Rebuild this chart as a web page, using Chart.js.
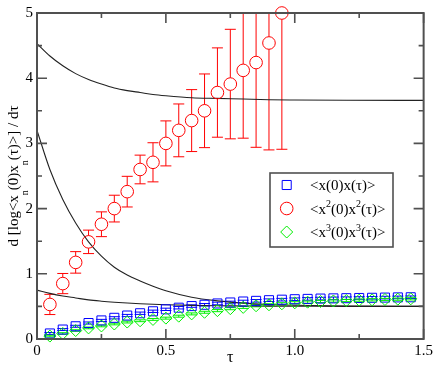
<!DOCTYPE html>
<html><head><meta charset="utf-8">
<script src="https://cdn.jsdelivr.net/npm/chart.js@4"></script>
<style>html,body{margin:0;padding:0;background:#fff}</style>
</head><body>
<canvas id="c" width="436" height="371"></canvas>
<script>
// ---- data ----
const tau = [0.05,0.10,0.15,0.20,0.25,0.30,0.35,0.40,0.45,0.50,0.55,0.60,0.65,0.70,0.75,0.80,0.85,0.90,0.95,1.00,1.05,1.10,1.15,1.20,1.25,1.30,1.35,1.40,1.45];
const tauRed = [0.05,0.10,0.15,0.20,0.25,0.30,0.35,0.40,0.45,0.50,0.55,0.60,0.65,0.70,0.75,0.80,0.85,0.90,0.95];

const blueY = [0.085,0.145,0.195,0.245,0.285,0.325,0.36,0.395,0.425,0.455,0.48,0.505,0.525,0.545,0.56,0.575,0.585,0.595,0.603,0.61,0.615,0.62,0.623,0.626,0.629,0.632,0.635,0.638,0.64];
const blueErr = [0.015,0.015,0.015,0.016,0.016,0.017,0.017,0.018,0.018,0.018,0.019,0.019,0.019,0.02,0.02,0.02,0.02,0.02,0.02,0.02,0.02,0.02,0.02,0.02,0.02,0.02,0.02,0.02,0.02];
const redY = [0.53,0.85,1.175,1.49,1.76,2.0,2.26,2.6,2.71,3.0,3.2,3.35,3.5,3.78,3.91,4.12,4.24,4.54,5.0];
const redErr = [0.155,0.155,0.165,0.18,0.19,0.205,0.235,0.22,0.30,0.345,0.405,0.475,0.565,0.685,0.84,1.04,1.30,1.64,2.09];
const greenY = [0.045,0.085,0.13,0.17,0.2,0.23,0.26,0.28,0.30,0.32,0.35,0.385,0.41,0.435,0.465,0.485,0.51,0.525,0.54,0.555,0.565,0.575,0.583,0.59,0.596,0.601,0.606,0.611,0.616];
const greenErr = [0.012,0.012,0.012,0.013,0.013,0.013,0.014,0.014,0.014,0.015,0.015,0.015,0.015,0.016,0.016,0.016,0.016,0.016,0.017,0.017,0.017,0.017,0.017,0.017,0.017,0.017,0.017,0.017,0.017];

// fitted curves
const curveX  = [0,0.05,0.10,0.15,0.20,0.25,0.30,0.35,0.40,0.45,0.50,0.60,0.70,0.80,0.90,1.00,1.20,1.50];
const curve1Y = [4.53,4.34,4.19,4.07,3.98,3.91,3.85,3.81,3.78,3.75,3.73,3.70,3.69,3.68,3.67,3.666,3.662,3.66];
const curve2Y = [3.20,2.60,2.14,1.78,1.49,1.27,1.10,0.98,0.89,0.81,0.74,0.64,0.585,0.55,0.53,0.518,0.507,0.502];
const curve3Y = [0.75,0.70,0.66,0.63,0.60,0.58,0.564,0.551,0.54,0.532,0.526,0.516,0.51,0.507,0.504,0.503,0.501,0.50];

const xMin = 0, xMax = 1.5, xStep = 0.5;
const yMin = 0, yMax = 5, yStep = 1;

const legendRows = [
  {color:'#0000ff', style:'rect', parts:[['<x(0)x(τ)>',0]]},
  {color:'#ff0000', style:'circle', parts:[['<x',0],['2',1],['(0)x',0],['2',1],['(τ)>',0]]},
  {color:'#00f000', style:'rectRot', parts:[['<x',0],['3',1],['(0)x',0],['3',1],['(τ)>',0]]}
];
const yLabelParts = [['d [log<x',0],['n',1],['(0)x',0],['n',1],['(τ)>] / dτ',0]];
const xLabel = 'τ';

// ---- build ----
const pts = (xs, ys) => xs.map((v,i)=>({x:v, y:ys[i]}));
const SERIF = "'Liberation Serif','Times New Roman',serif";
const FRAME = '#505050';

const errPlugin = {
  id:'errbars',
  beforeDatasetsDraw(chart){
    const {ctx, chartArea:a, scales:{x, y}} = chart;
    ctx.save();
    ctx.beginPath(); ctx.rect(a.left, a.top, a.right-a.left, a.bottom-a.top); ctx.clip();
    const cap = 5.5;
    const draw = (xs, ys, es, color, gap) => {
      ctx.strokeStyle = color; ctx.lineWidth = 1;
      for (let i=0;i<xs.length;i++){
        const px = x.getPixelForValue(xs[i]);
        const py = y.getPixelForValue(ys[i]);
        const pt = y.getPixelForValue(ys[i]+es[i]);
        const pb = y.getPixelForValue(ys[i]-es[i]);
        ctx.beginPath();
        if (gap > 0) {
          if (py-gap > pt) { ctx.moveTo(px, pt); ctx.lineTo(px, py-gap); }
          if (pb > py+gap) { ctx.moveTo(px, py+gap); ctx.lineTo(px, pb); }
        } else { ctx.moveTo(px, pt); ctx.lineTo(px, pb); }
        ctx.moveTo(px-cap, pt); ctx.lineTo(px+cap, pt);
        ctx.moveTo(px-cap, pb); ctx.lineTo(px+cap, pb);
        ctx.stroke();
      }
    };
    draw(tau, blueY, blueErr, '#0000ff', 0);
    draw(tau, greenY, greenErr, '#00f000', 0);
    draw(tauRed, redY, redErr, '#ff0000', 6.3);
    ctx.restore();
  }
};

function drawParts(ctx, parts, x0, y0, size, measureOnly){
  let w = 0;
  for (const [t, sup] of parts){
    ctx.font = (sup ? Math.round(size*0.68) : size) + 'px ' + SERIF;
    const tw = ctx.measureText(t).width;
    if (!measureOnly) ctx.fillText(t, x0 + w, y0 - (sup ? size*0.42 : 0));
    w += tw;
  }
  return w;
}

const framePlugin = {
  id:'frame',
  afterDatasetsDraw(chart){
    const {ctx, chartArea:a, scales:{x, y}} = chart;
    ctx.save();
    ctx.strokeStyle = FRAME; ctx.lineWidth = 1.6;
    const maj = 10, min = 5;
    const xt = x.ticks.map(t=>t.value), yt = y.ticks.map(t=>t.value);
    const xm = [], ym = [];
    for (let i=0;i<xt.length-1;i++) xm.push((xt[i]+xt[i+1])/2);
    for (let i=0;i<yt.length-1;i++) ym.push((yt[i]+yt[i+1])/2);
    ctx.beginPath();
    const vx = (v, L) => { const p = x.getPixelForValue(v);
      ctx.moveTo(p, a.bottom); ctx.lineTo(p, a.bottom - L);
      ctx.moveTo(p, a.top); ctx.lineTo(p, a.top + L); };
    const vy = (v, L) => { const p = y.getPixelForValue(v);
      ctx.moveTo(a.left, p); ctx.lineTo(a.left + L, p);
      ctx.moveTo(a.right, p); ctx.lineTo(a.right - L, p); };
    xt.forEach(v=>vx(v, maj)); xm.forEach(v=>vx(v, min));
    yt.forEach(v=>vy(v, maj)); ym.forEach(v=>vy(v, min));
    ctx.stroke();
    ctx.lineWidth = 2;
    ctx.strokeRect(a.left, a.top, a.right-a.left, a.bottom-a.top);
    ctx.restore();
  },
  afterDraw(chart){
    const {ctx, chartArea:a} = chart;
    ctx.save();
    ctx.fillStyle = '#000';
    // x label
    ctx.font = '16px ' + SERIF; ctx.textAlign = 'center'; ctx.textBaseline = 'alphabetic';
    ctx.fillText(xLabel, (a.left+a.right)/2, 362);
    // y label
    ctx.textAlign = 'left';
    const size = 15;
    const w = drawParts(ctx, yLabelParts, 0, 0, size, true);
    ctx.translate(18, (a.top+a.bottom)/2);
    ctx.rotate(-Math.PI/2);
    let off = -w/2;
    for (const [t, sup] of yLabelParts){
      ctx.font = (sup ? 10 : size) + 'px ' + SERIF;
      ctx.fillText(t, off, sup ? 10 : 0);
      off += ctx.measureText(t).width;
    }
    ctx.restore();

    // legend
    ctx.save();
    const bx = 270, by = 173, bw = 123, bh = 74;
    ctx.fillStyle = '#fff'; ctx.fillRect(bx, by, bw, bh);
    ctx.strokeStyle = FRAME; ctx.lineWidth = 1.6; ctx.strokeRect(bx, by, bw, bh);
    const rowsY = [185, 208.5, 232];
    legendRows.forEach((r, i) => {
      const cy = rowsY[i];
      ctx.strokeStyle = r.color; ctx.lineWidth = 1; ctx.fillStyle = 'rgba(0,0,0,0)';
      Chart.helpers.drawPoint(ctx, {pointStyle:r.style, radius: r.style==='rect'?6.4:(r.style==='circle'?6.3:6), borderWidth:1, rotation:0}, 286.7, cy);
      ctx.fillStyle = '#000'; ctx.textBaseline = 'alphabetic'; ctx.textAlign = 'left';
      drawParts(ctx, r.parts, 310, cy + 5, 15, false);
    });
    ctx.restore();
  }
};

new Chart(document.getElementById('c'), {
  type: 'scatter',
  data: {
    datasets: [
      {label:'<x3(0)x3(τ)>', data: pts(tau, greenY), pointStyle:'rectRot', pointRadius:6, borderColor:'#00f000', backgroundColor:'rgba(0,0,0,0)', borderWidth:1, clip:8},
      {label:'<x(0)x(τ)>', data: pts(tau, blueY), pointStyle:'rect', pointRadius:6.4, borderColor:'#0000ff', backgroundColor:'rgba(0,0,0,0)', borderWidth:1, clip:8},
      {label:'<x2(0)x2(τ)>', data: pts(tauRed, redY), pointStyle:'circle', pointRadius:6.3, borderColor:'#ff0000', backgroundColor:'rgba(0,0,0,0)', borderWidth:1, clip:8},
      {type:'line', label:'fit1', data: pts(curveX, curve1Y), borderColor:'#222', borderWidth:1.1, pointRadius:0, cubicInterpolationMode:'monotone', fill:false},
      {type:'line', label:'fit2', data: pts(curveX, curve2Y), borderColor:'#222', borderWidth:1.1, pointRadius:0, cubicInterpolationMode:'monotone', fill:false},
      {type:'line', label:'fit3', data: pts(curveX, curve3Y), borderColor:'#222', borderWidth:1.1, pointRadius:0, cubicInterpolationMode:'monotone', fill:false}
    ]
  },
  options: {
    responsive:false, animation:false, devicePixelRatio:1,
    layout:{padding:{top:7, right:11, left:0, bottom:0}},
    plugins:{legend:{display:false}, tooltip:{enabled:false}},
    scales:{
      x:{type:'linear', min:xMin, max:xMax,
         ticks:{stepSize:xStep, color:'#000', font:{family:SERIF, size:15}, padding:3, maxRotation:0, autoSkip:false},
         grid:{display:false, drawTicks:false}, border:{display:false},
         afterFit(s){ s.height = 32; }},
      y:{type:'linear', min:yMin, max:yMax,
         ticks:{stepSize:yStep, color:'#000', font:{family:SERIF, size:15}, padding:4, autoSkip:false},
         grid:{display:false, drawTicks:false}, border:{display:false},
         afterFit(s){ s.width = 37; }}
    }
  },
  plugins:[errPlugin, framePlugin]
});
</script>
</body></html>
